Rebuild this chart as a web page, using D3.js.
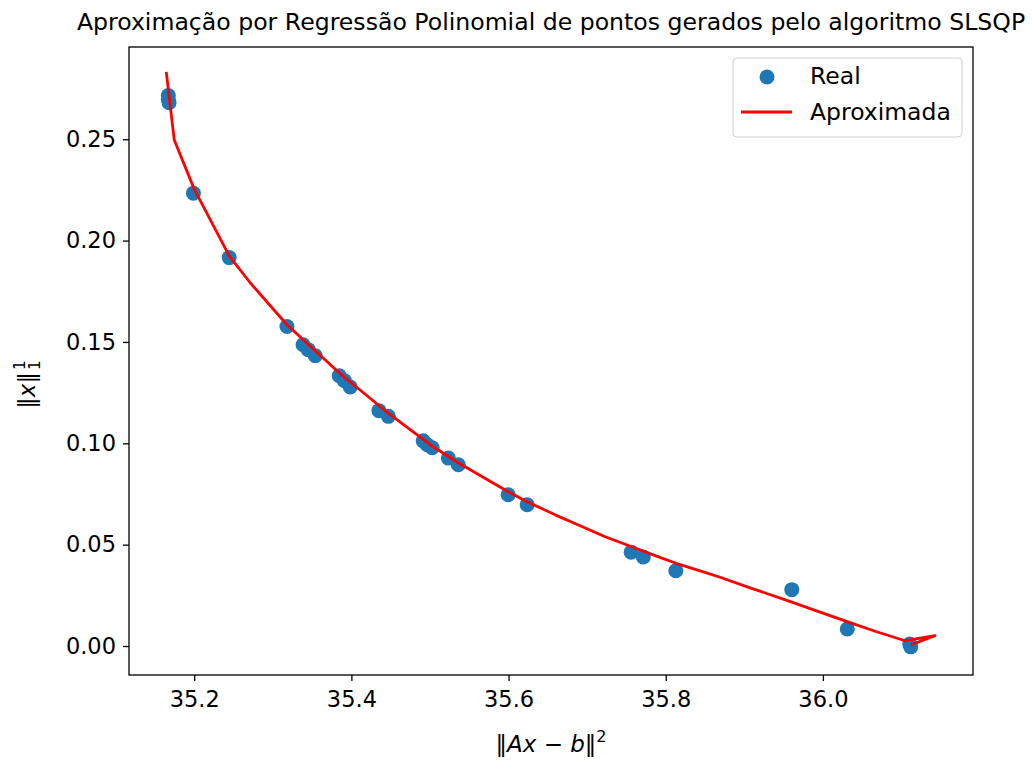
<!DOCTYPE html>
<html>
<head>
<meta charset="utf-8">
<script src="https://cdn.jsdelivr.net/npm/d3@7"></script>
<style>
  body { margin: 0; background: #fff; }
  text { font-family: "DejaVu Sans", sans-serif; fill: #000; }
</style>
</head>
<body>
<script>
// pontos reais (saida do SLSQP)
var realX = [35.167, 35.167, 35.168, 35.199, 35.2445, 35.318, 35.3385, 35.345, 35.354,
             35.3845, 35.391, 35.3985, 35.435, 35.447, 35.4914, 35.4965, 35.5028, 35.5234,
             35.536, 35.5995, 35.6237, 35.756, 35.7715, 35.8128, 35.9604, 36.031, 36.1105, 36.1118];
var realY = [0.2716, 0.2697, 0.2680, 0.2234, 0.1916, 0.1576, 0.1486, 0.1462, 0.1432,
             0.1333, 0.1309, 0.1278, 0.1161, 0.1133, 0.1012, 0.0993, 0.0978, 0.0927,
             0.0894, 0.0746, 0.0697, 0.0463, 0.0439, 0.0371, 0.0278, 0.0084, 0.0010, -0.0004];

// curva aproximada (regressao polinomial)
var fitX = [35.1644, 35.1746, 35.2, 35.2445, 35.2712, 35.318, 35.3858, 35.4494, 35.5003,
            35.5359, 35.5995, 35.6237, 35.6593, 35.6911, 35.7229, 35.756, 35.7865, 35.8132,
            35.8438, 35.8692, 35.9074, 35.9596, 35.9964, 36.0308, 36.0664, 36.1046,
            36.1427, 36.1122];
var fitY = [0.2832, 0.2496, 0.2254, 0.1925, 0.1792, 0.1585, 0.1343, 0.1141, 0.0993,
            0.0904, 0.0761, 0.0712, 0.0647, 0.0593, 0.0539, 0.0491, 0.0446, 0.0408,
            0.0371, 0.0339, 0.0287, 0.0218, 0.0167, 0.0120, 0.0073, 0.0026,
            0.0051, 0.0006];

var xTicks = [35.2, 35.4, 35.6, 35.8, 36.0];
var yTicks = [0.00, 0.05, 0.10, 0.15, 0.20, 0.25];
var legendLabels = ["Real", "Aproximada"];
var title = "Aproximação por Regressão Polinomial de pontos gerados pelo algoritmo SLSQP";

var width = 1033, height = 760;
var mLeft = 129, mRight = 973, mTop = 47, mBottom = 675;

var svg = d3.select("body").append("svg")
  .attr("width", width)
  .attr("height", height);

var x = d3.scaleLinear().domain([35.117, 36.191]).range([mLeft, mRight]);
var y = d3.scaleLinear().domain([-0.0143, 0.2955]).range([mBottom, mTop]);

// eixos
var xAxis = svg.append("g")
  .attr("transform", "translate(0," + mBottom + ")")
  .call(d3.axisBottom(x).tickValues(xTicks).tickFormat(d3.format(".1f")).tickSize(6).tickPadding(6));
var yAxis = svg.append("g")
  .attr("transform", "translate(" + mLeft + ",0)")
  .call(d3.axisLeft(y).tickValues(yTicks).tickFormat(d3.format(".2f")).tickSize(6).tickPadding(7));

[xAxis, yAxis].forEach(function(g) {
  g.select(".domain").remove();
  g.selectAll("line").attr("stroke", "#000").attr("stroke-width", 1.3);
  g.selectAll("text").style("font-size", "22.5px").style("font-family", "DejaVu Sans").attr("fill", "#222");
});
xAxis.selectAll("text").attr("dy", "0.9em");

// pontos
svg.append("g").selectAll("circle")
  .data(realX)
  .enter()
  .append("circle")
  .attr("cx", function(d) { return x(d); })
  .attr("cy", function(d, i) { return y(realY[i]); })
  .attr("r", 7.5)
  .attr("fill", "#1f77b4");

// linha aproximada
var line = d3.line()
  .x(function(d) { return x(d); })
  .y(function(d, i) { return y(fitY[i]); });

svg.append("path")
  .attr("d", line(fitX))
  .attr("fill", "none")
  .attr("stroke", "red")
  .attr("stroke-width", 2.8)
  .attr("stroke-linejoin", "round");

// moldura
svg.append("rect")
  .attr("x", mLeft).attr("y", mTop)
  .attr("width", mRight - mLeft).attr("height", mBottom - mTop)
  .attr("fill", "none")
  .attr("stroke", "#000")
  .attr("stroke-width", 1.3);

// titulo
svg.append("text")
  .attr("x", 551).attr("y", 30)
  .attr("text-anchor", "middle")
  .style("font-size", "23.6px")
  .attr("fill", "#222")
  .text(title);

// rotulo x
var xl = svg.append("text")
  .attr("x", 551).attr("y", 752)
  .attr("text-anchor", "middle")
  .style("font-size", "23px")
  .attr("fill", "#222");
xl.append("tspan").text("‖");
xl.append("tspan").style("font-style", "italic").text("Ax");
xl.append("tspan").text(" − ");
xl.append("tspan").style("font-style", "italic").text("b");
xl.append("tspan").text("‖");
xl.append("tspan").attr("dy", -10).style("font-size", "16px").text("2");

// rotulo y
var yl = svg.append("g").attr("transform", "translate(35,368) rotate(-90)");
yl.append("text")
  .attr("x", -4).attr("y", 0)
  .attr("text-anchor", "end")
  .style("font-size", "23px")
  .attr("fill", "#222")
  .html('‖<tspan font-style="italic">x</tspan>‖');
yl.append("text").attr("x", -2).attr("y", -10).style("font-size", "15px").text("1");
yl.append("text").attr("x", -2).attr("y", 5).style("font-size", "15px").text("1");

// legenda
var lg = svg.append("g");
lg.append("rect")
  .attr("x", 733).attr("y", 58)
  .attr("width", 229).attr("height", 79)
  .attr("rx", 4)
  .attr("fill", "#fff")
  .attr("fill-opacity", 0.8)
  .attr("stroke", "#d0d0d0")
  .attr("stroke-width", 1);
lg.append("circle").attr("cx", 767).attr("cy", 77).attr("r", 7.5).attr("fill", "#1f77b4");
lg.append("line").attr("x1", 741).attr("x2", 792).attr("y1", 112).attr("y2", 112)
  .attr("stroke", "red").attr("stroke-width", 2.8);
lg.selectAll("text.leg")
  .data(legendLabels)
  .enter()
  .append("text")
  .attr("class", "leg")
  .attr("x", 810)
  .attr("y", function(d, i) { return 84 + i * 36; })
  .style("font-size", "23.5px")
  .attr("fill", "#222")
  .text(function(d) { return d; });
</script>
</body>
</html>
